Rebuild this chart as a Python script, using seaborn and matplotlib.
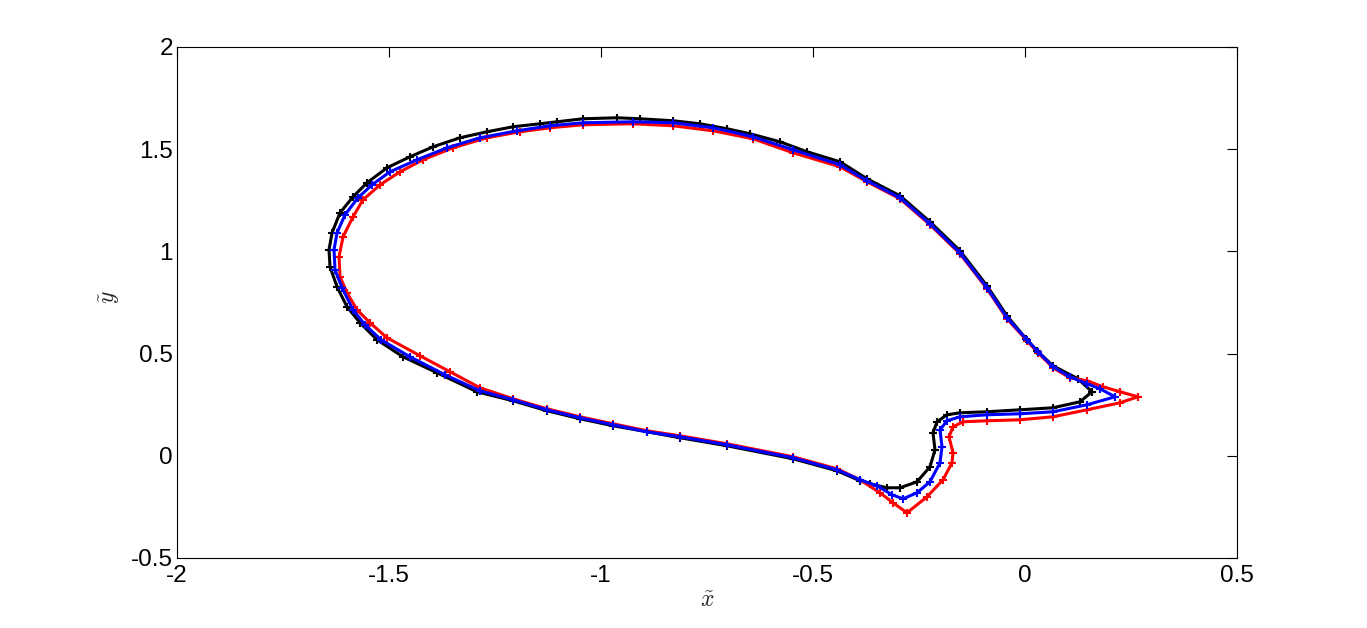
import numpy as np
import pandas as pd
import matplotlib
matplotlib.use('Agg')
import matplotlib.pyplot as plt
import matplotlib.ticker as mticker
import seaborn as sns

# curve outlines, listed from the tip going round the loop
black_x = [0.158, 0.125, 0.066, 0.0283, 0.0024, -0.0425, -0.0896, -0.1533, -0.2241, -0.2948,
           -0.3726, -0.4363, -0.5142, -0.5778, -0.6486, -0.7028, -0.7665, -0.8302, -0.908, -0.9623,
           -1.0425, -1.1038, -1.1439, -1.2075, -1.2689, -1.3325, -1.3962, -1.4505, -1.5047, -1.5519,
           -1.5849, -1.6156, -1.6344, -1.6415, -1.6392, -1.6226, -1.5991, -1.5684, -1.5283, -1.467,
           -1.3868, -1.2925, -1.2075, -1.1274, -1.0495, -0.9717, -0.8915, -0.8137, -0.7028, -0.5472,
           -0.4434, -0.3892, -0.3656, -0.3255, -0.2948, -0.2547, -0.2241, -0.2123, -0.217, -0.2075,
           -0.184, -0.1533, -0.0896, -0.0118, 0.066, 0.1297, 0.158]
black_y = [0.3131, 0.3767, 0.4403, 0.5137, 0.5724, 0.6849, 0.8317, 1.0029, 1.1448, 1.272,
           1.3552, 1.4384, 1.4873, 1.5362, 1.5754, 1.5998, 1.6243, 1.639, 1.6487, 1.6536,
           1.6487, 1.634, 1.6243, 1.6096, 1.5851, 1.5558, 1.5117, 1.4628, 1.409, 1.3356,
           1.2671, 1.1889, 1.091, 1.0078, 0.9247, 0.8268, 0.729, 0.6507, 0.5675, 0.4843,
           0.4061, 0.3131, 0.2691, 0.2202, 0.181, 0.1468, 0.1174, 0.0881, 0.0489, -0.0147,
           -0.0734, -0.1223, -0.137, -0.1566, -0.1566, -0.1272, -0.0538, 0.0294, 0.1125, 0.1663,
           0.2006, 0.2104, 0.2153, 0.225, 0.2348, 0.2642, 0.3131]

blue_x = [0.2123, 0.1769, 0.1462, 0.1061, 0.066, 0.0307, 0.0047, -0.0425, -0.0896, -0.1533,
          -0.2241, -0.2948, -0.3726, -0.4363, -0.5472, -0.6415, -0.7358, -0.8302, -0.9245, -1.0425,
          -1.1203, -1.1981, -1.2854, -1.3632, -1.434, -1.4976, -1.5401, -1.5731, -1.6038, -1.6226,
          -1.6297, -1.6274, -1.6108, -1.5849, -1.5566, -1.5189, -1.4505, -1.3679, -1.2854, -1.2075,
          -1.1274, -1.0495, -0.9717, -0.8915, -0.8137, -0.7028, -0.5472, -0.4434, -0.3892, -0.3491,
          -0.3137, -0.2877, -0.2547, -0.2241, -0.2005, -0.1958, -0.2005, -0.184, -0.1533, -0.0896,
          -0.0118, 0.066, 0.1462, 0.2123]
blue_y = [0.2886, 0.3278, 0.3523, 0.3865, 0.4354, 0.5088, 0.5675, 0.6751, 0.8219, 0.9932,
          1.135, 1.2622, 1.3454, 1.4237, 1.4971, 1.5607, 1.6047, 1.6292, 1.634, 1.6292,
          1.6145, 1.59, 1.5558, 1.5069, 1.4481, 1.3894, 1.3258, 1.2622, 1.1791, 1.091,
          1.0078, 0.91, 0.8219, 0.7143, 0.6409, 0.5675, 0.4843, 0.3963, 0.318, 0.274,
          0.225, 0.1859, 0.1517, 0.1174, 0.093, 0.0538, -0.0098, -0.0685, -0.1174, -0.1468,
          -0.1908, -0.2104, -0.181, -0.1272, -0.0342, 0.044, 0.1272, 0.1712, 0.1908, 0.2006,
          0.2055, 0.2153, 0.2495, 0.2886]

red_x = [0.2665, 0.2241, 0.184, 0.1462, 0.1061, 0.066, 0.0307, 0.0047, -0.0425, -0.0896,
         -0.1533, -0.2241, -0.2948, -0.3726, -0.4363, -0.5472, -0.6415, -0.7358, -0.8302, -0.9245,
         -1.0425, -1.1203, -1.191, -1.2689, -1.3491, -1.4198, -1.4741, -1.5212, -1.5613, -1.5849,
         -1.6085, -1.6179, -1.6156, -1.5991, -1.5755, -1.5448, -1.5047, -1.4269, -1.3561, -1.2854,
         -1.2075, -1.1274, -1.0495, -0.9717, -0.8915, -0.8137, -0.7028, -0.5472, -0.4434, -0.3892,
         -0.342, -0.3113, -0.2783, -0.2311, -0.1934, -0.1722, -0.1698, -0.1792, -0.1698, -0.1462,
         -0.0896, -0.0118, 0.066, 0.1462, 0.2241, 0.2665]
red_y = [0.2886, 0.3131, 0.3376, 0.3669, 0.3816, 0.4305, 0.5039, 0.5626, 0.6703, 0.817,
         0.9883, 1.1301, 1.2573, 1.3405, 1.4139, 1.4824, 1.5509, 1.59, 1.6145, 1.6243,
         1.6194, 1.6047, 1.5851, 1.5558, 1.5069, 1.4481, 1.3894, 1.3258, 1.2524, 1.1693,
         1.0714, 0.9736, 0.8757, 0.7975, 0.7143, 0.6507, 0.5773, 0.4892, 0.411, 0.3327,
         0.2789, 0.2299, 0.1908, 0.1566, 0.1223, 0.0978, 0.0587, -0.0049, -0.0636, -0.1174,
         -0.181, -0.2299, -0.2789, -0.2006, -0.1174, -0.0342, 0.0147, 0.093, 0.1419, 0.1663,
         0.1712, 0.1761, 0.1908, 0.225, 0.2593, 0.2886]

x_ticks = [-2, -1.5, -1, -0.5, 0, 0.5]
y_ticks = [-0.5, 0, 0.5, 1, 1.5, 2]

frames = []
for name, xs, ys in [('black', black_x, black_y), ('red', red_x, red_y), ('blue', blue_x, blue_y)]:
    part = pd.DataFrame({'x': xs, 'y': ys, 'curve': name})
    part['order'] = np.arange(len(part))
    frames.append(part)
df = pd.concat(frames, ignore_index=True)

sns.set_style('white')
plt.rcParams['font.family'] = ['Liberation Sans', 'DejaVu Sans']
plt.rcParams['axes.unicode_minus'] = False
plt.rcParams['mathtext.fontset'] = 'cm'

fig = plt.figure(figsize=(13.67, 6.28), dpi=100)
ax = fig.add_axes([0.1295, 0.1115, 0.7754, 0.8137])

for name in ['black', 'red', 'blue']:
    sns.lineplot(data=df[df['curve'] == name], x='x', y='y', sort=False, estimator=None,
                 color=name, lw=2.2, marker='+', markersize=6, markeredgewidth=1.5,
                 markeredgecolor=name, ax=ax, legend=False)

ax.set_xlim(-2, 0.5)
ax.set_ylim(-0.5, 2)
ax.set_xticks(x_ticks)
ax.set_yticks(y_ticks)
fmt = mticker.FuncFormatter(lambda v, p: '%g' % v)
ax.xaxis.set_major_formatter(fmt)
ax.yaxis.set_major_formatter(fmt)
ax.tick_params(axis='both', direction='in', top=True, right=True, length=7, width=0.8,
               labelsize=17.5, colors='black')
ax.tick_params(axis='x', pad=5)
ax.tick_params(axis='y', pad=3)
for sp in ax.spines.values():
    sp.set_visible(True)
    sp.set_color('black')
    sp.set_linewidth(0.8)

ax.set_xlabel(r'$\tilde{x}$', fontsize=17)
ax.set_ylabel(r'$\tilde{y}$', fontsize=17)
ax.xaxis.set_label_coords(0.5, -0.062)
ax.yaxis.set_label_coords(-0.052, 0.51)

fig.savefig('out.png', dpi=100, facecolor='white')
plt.close(fig)
